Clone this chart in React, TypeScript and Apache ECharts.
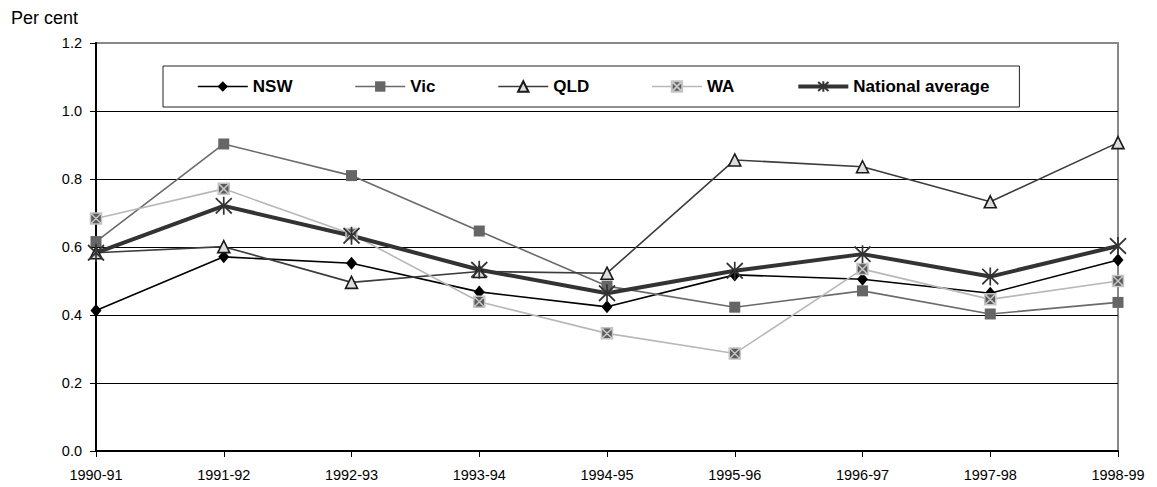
import React, { useEffect, useRef } from "react";
import * as echarts from "echarts";

const categories = ["1990-91", "1991-92", "1992-93", "1993-94", "1994-95", "1995-96", "1996-97", "1997-98", "1998-99"];
const nsw = [0.413, 0.571, 0.552, 0.468, 0.424, 0.518, 0.505, 0.464, 0.562];
const vic = [0.616, 0.903, 0.81, 0.647, 0.485, 0.423, 0.471, 0.403, 0.437];
const qld = [0.583, 0.601, 0.496, 0.528, 0.523, 0.856, 0.836, 0.733, 0.907];
const wa = [0.684, 0.771, 0.638, 0.439, 0.346, 0.287, 0.535, 0.446, 0.5];
const national = [0.583, 0.721, 0.633, 0.533, 0.464, 0.53, 0.579, 0.513, 0.603];
const seriesNames = ["NSW", "Vic", "QLD", "WA", "National average"];

const FONT = "Liberation Sans, Arial, Helvetica, sans-serif";

const WA_SYMBOL = "path://M0,0H10V10H0Z M0,0L10,10 M10,0L0,10";
const STAR_SYMBOL = "path://M0,1L12,13 M12,1L0,13 M6,0L6,14";

export default function App() {
  const ref = useRef<HTMLDivElement>(null);
  useEffect(() => {
    document.body.style.margin = "0";
    const chart = echarts.init(ref.current!, null, { renderer: "svg" });
    const legendWidths = [1.6, 1.6, 1.6, 1.6, 4];
    chart.setOption({
      animation: false,
      backgroundColor: "#fff",
      title: {
        text: "Per cent",
        left: 11,
        top: 9,
        padding: 0,
        textStyle: { fontFamily: FONT, fontSize: 18, fontWeight: "normal", color: "#000" },
      },
      legend: {
        data: seriesNames.map((n, i) => ({ name: n, lineStyle: { width: legendWidths[i] } })),
        left: 163,
        top: 66,
        padding: [12, 30, 12, 34],
        itemGap: 62,
        itemWidth: 50,
        itemHeight: 13,
        borderColor: "#222",
        borderWidth: 1,
        backgroundColor: "#fff",
        textStyle: { fontFamily: FONT, fontSize: 17, fontWeight: "bold", color: "#000" },
      },
      grid: {
        left: 96,
        right: 39,
        top: 43,
        bottom: 36,
        show: true,
        borderColor: "#888",
        borderWidth: 2,
        backgroundColor: "transparent",
      },
      xAxis: {
        type: "category",
        data: categories,
        boundaryGap: false,
        axisLine: { show: true, lineStyle: { color: "#000", width: 2 } },
        axisTick: { show: true, length: 6, alignWithLabel: true, lineStyle: { color: "#000", width: 1 } },
        axisLabel: { fontFamily: FONT, fontSize: 14.5, color: "#000", margin: 16 },
        splitLine: { show: false },
      },
      yAxis: {
        type: "value",
        min: 0,
        max: 1.2,
        interval: 0.2,
        axisLine: { show: true, lineStyle: { color: "#000", width: 2 } },
        axisTick: { show: true, length: 6, lineStyle: { color: "#000", width: 1 } },
        axisLabel: {
          fontFamily: FONT,
          fontSize: 14.5,
          color: "#000",
          margin: 14,
          formatter: (v: number) => v.toFixed(1),
        },
        splitLine: {
          show: true,
          lineStyle: { color: ["#000", "#000", "#000", "#000", "#000", "#000", "#888"], width: 1 },
        },
      },
      series: [
        {
          name: "NSW",
          type: "line",
          data: nsw,
          symbol: "diamond",
          symbolSize: [11, 13],
          lineStyle: { color: "#000", width: 1.6 },
          itemStyle: { color: "#000", borderWidth: 0 },
        },
        {
          name: "Vic",
          type: "line",
          data: vic,
          symbol: "rect",
          symbolSize: 11,
          lineStyle: { color: "#6a6a6a", width: 1.6 },
          itemStyle: { color: "#666", borderWidth: 0 },
        },
        {
          name: "QLD",
          type: "line",
          data: qld,
          symbol: "triangle",
          symbolSize: [12, 12],
          lineStyle: { color: "#3c3c3c", width: 1.6 },
          itemStyle: { color: "#ddd", borderColor: "#1a1a1a", borderWidth: 1.6 },
        },
        {
          name: "WA",
          type: "line",
          data: wa,
          symbol: WA_SYMBOL,
          symbolSize: 11,
          lineStyle: { color: "#b8b8b8", width: 1.6 },
          itemStyle: { color: "#5a5a5a", borderColor: "#c4c4c4", borderWidth: 1.5 },
        },
        {
          name: "National average",
          type: "line",
          data: national,
          symbol: STAR_SYMBOL,
          symbolSize: [16, 18],
          lineStyle: { color: "#333", width: 4 },
          itemStyle: { color: "#333", borderColor: "#333", borderWidth: 1.8 },
        },
      ],
    });
    return () => chart.dispose();
  }, []);
  return <div ref={ref} style={{ width: 1157, height: 487 }} />;
}
